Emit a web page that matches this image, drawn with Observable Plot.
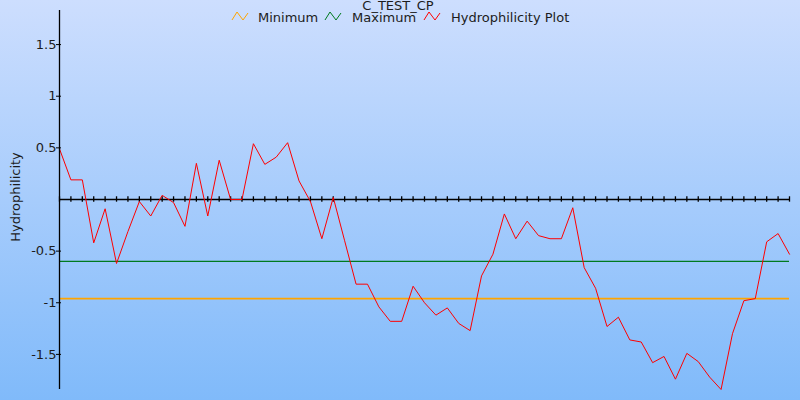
<!DOCTYPE html>
<html>
<head>
<meta charset="utf-8">
<script src="https://cdn.jsdelivr.net/npm/d3@7"></script>
<script src="https://cdn.jsdelivr.net/npm/@observablehq/plot@0.6"></script>
<style>
  html, body { margin: 0; padding: 0; }
  #wrap { position: relative; width: 800px; height: 400px;
          background: linear-gradient(to bottom, #cddefe, #80bafa); overflow: hidden; }
  #wrap svg { position: absolute; left: 0; top: 0; }
  #overlay { pointer-events: none; }
</style>
</head>
<body>
<div id="wrap"></div>
<script>
// ---- data ----
const title = "C_TEST_CP";
const yLabel = "Hydrophilicity";
const seriesNames = ["Minimum", "Maximum", "Hydrophilicity Plot"];
const seriesColors = ["#ffa500", "#007a1e", "#ff0000"];
const minimumValue = -0.96;
const maximumValue = -0.60;
const hydrophilicity = [
  0.49, 0.19, 0.19, -0.42, -0.09, -0.62, -0.31, -0.02, -0.16, 0.04,
  -0.03, -0.26, 0.35, -0.16, 0.38, 0.0, 0.0, 0.54, 0.34, 0.41,
  0.55, 0.18, -0.02, -0.38, 0.02, -0.40, -0.82, -0.82, -1.04, -1.18,
  -1.18, -0.84, -1.00, -1.12, -1.05, -1.20, -1.27, -0.74, -0.53, -0.14,
  -0.38, -0.21, -0.35, -0.38, -0.38, -0.08, -0.66, -0.86, -1.23, -1.14,
  -1.36, -1.38, -1.58, -1.52, -1.74, -1.49, -1.57, -1.72, -1.84, -1.30,
  -0.98, -0.96, -0.41, -0.33, -0.53
];
const yTicks = [-1.5, -1, -0.5, 0.5, 1, 1.5];
const yDomain = [-1.84, 1.83];

// ---- chart ----
const W = 800, H = 400;
const mTop = 10, mBottom = 11, mLeft = 59, mRight = 11;
const pts = hydrophilicity.map((v, i) => ({i, v}));
const idx = hydrophilicity.map((_, i) => i);
const pxPerUnit = (H - mTop - mBottom) / (yDomain[1] - yDomain[0]);
const tHalf = 2.7 / pxPerUnit;

const chart = Plot.plot({
  width: W, height: H,
  marginTop: mTop, marginBottom: mBottom, marginLeft: mLeft, marginRight: mRight,
  style: {background: "transparent", fontFamily: "DejaVu Sans", fontSize: "13px", color: "#1c1c1c"},
  x: {domain: [0, hydrophilicity.length - 1], axis: null},
  y: {domain: yDomain, axis: null},
  marks: [
    Plot.ruleY([maximumValue], {stroke: seriesColors[1], strokeWidth: 1.2}),
    Plot.ruleY([minimumValue], {stroke: seriesColors[0], strokeWidth: 1.8}),
    Plot.ruleY([0], {stroke: "#000", strokeWidth: 1.3}),
    Plot.ruleX(idx, {x: d => d, y1: -tHalf, y2: tHalf, stroke: "#000", strokeWidth: 1.3}),
    Plot.line(pts, {x: "i", y: "v", stroke: seriesColors[2], strokeWidth: 1}),
    Plot.ruleX([0], {stroke: "#000", strokeWidth: 1.3}),
    Plot.axisY({ticks: yTicks, tickFormat: d => String(d), tickSize: 5, tickPadding: 0,
                dx: 2, stroke: "#000", fill: "#1c1c1c", fontSize: 13, label: null})
  ]
});
document.getElementById("wrap").appendChild(chart);

// ---- title, legend, axis label (overlay) ----
const ns = "http://www.w3.org/2000/svg";
const ov = d3.select("#wrap").append("svg").attr("id", "overlay")
  .attr("width", W).attr("height", H)
  .style("font-family", "DejaVu Sans").style("font-size", "13px").style("fill", "#1c1c1c");
ov.append("text").attr("x", 398).attr("y", 10).attr("text-anchor", "middle").text(title);
const legendIconX = [232, 325, 424];
const legendTextX = [258, 352, 451];
seriesNames.forEach((name, k) => {
  const x0 = legendIconX[k];
  ov.append("polyline")
    .attr("points", [[x0, 20], [x0 + 5, 12], [x0 + 11, 20], [x0 + 16, 13]].map(p => p.join(",")).join(" "))
    .attr("fill", "none").attr("stroke", seriesColors[k]).attr("stroke-width", 1);
  ov.append("text").attr("x", legendTextX[k]).attr("y", 22).text(name);
});
ov.append("text").attr("transform", "translate(20,197) rotate(-90)")
  .attr("text-anchor", "middle").text(yLabel);
</script>
</body>
</html>
